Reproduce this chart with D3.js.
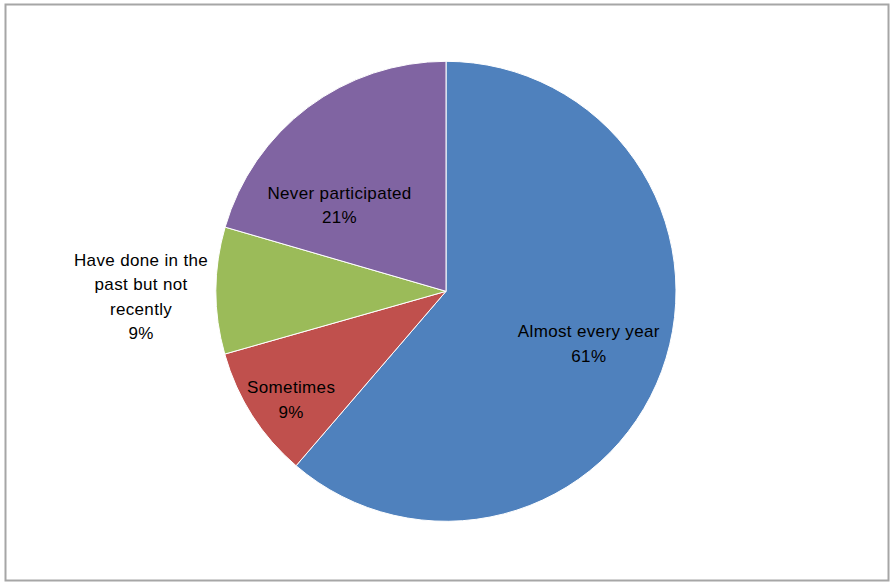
<!DOCTYPE html>
<html>
<head>
<meta charset="utf-8">
<script src="https://cdn.jsdelivr.net/npm/d3@7"></script>
<style>
	body { margin: 0; background: #fff; }
	text { font-family: "Liberation Sans", Arial, sans-serif; font-size: 17px; letter-spacing: 0.35px; fill: #000; }
</style>
</head>
<body>
<div class="pie-chart"></div>
<script>
const categories = ['Almost every year', 'Sometimes', 'Have done in the past but not recently', 'Never participated'];
const values = [61.3, 9.3, 8.9, 20.5];
const colors = ['#4F81BD', '#C0504D', '#9BBB59', '#8064A2'];
// how each label is wrapped in the picture
const labelLines = [['Almost every year'], ['Sometimes'], ['Have done in the', 'past but not', 'recently'], ['Never participated']];

const width = 891;
const height = 584;
const cx = 446, cy = 291.3, radius = 230;

// label anchor: angle (deg, clockwise from top) and distance from centre
const labelPlace = [[110, 152], [235, 189], [269, 305], [309, 137]];

const data = categories.map(function (c, i) {
	return { category: c, value: values[i], color: colors[i], lines: labelLines[i], place: labelPlace[i] };
});

const svg = d3.select('.pie-chart')
	.append('svg')
	.attr('width', width)
	.attr('height', height);

svg.append('rect')
	.attr('x', 5.5)
	.attr('y', 4.5)
	.attr('width', 883)
	.attr('height', 576)
	.attr('fill', '#fff')
	.attr('stroke', '#a6a6a6')
	.attr('stroke-width', 2);

const pie = d3.pie()
	.sort(null)
	.value(function (d) { return d.value; });

const arc = d3.arc()
	.innerRadius(0)
	.outerRadius(radius);

const g = svg.append('g')
	.attr('transform', 'translate(' + cx + ',' + cy + ')');

g.selectAll('.slice')
	.data(pie(data))
	.enter()
	.append('path')
	.attr('class', 'slice')
	.attr('d', arc)
	.attr('fill', function (d) { return d.data.color; })
	.attr('stroke', '#fff')
	.attr('stroke-width', 1);

const lineH = 24.5;
const labels = g.selectAll('.label')
	.data(pie(data))
	.enter()
	.append('text')
	.attr('class', 'label')
	.attr('text-anchor', 'middle')
	.attr('transform', function (d) {
		const a = d.data.place[0] * Math.PI / 180;
		const r = d.data.place[1];
		return 'translate(' + (r * Math.sin(a)) + ',' + (-r * Math.cos(a)) + ')';
	});

labels.each(function (d) {
	const lines = d.data.lines.concat([Math.round(d.data.value) + '%']);
	const top = -(lines.length - 1) * lineH / 2 + 6;
	const t = d3.select(this);
	lines.forEach(function (l, i) {
		t.append('tspan')
			.attr('x', 0)
			.attr('y', top + i * lineH)
			.text(l);
	});
});
</script>
</body>
</html>
